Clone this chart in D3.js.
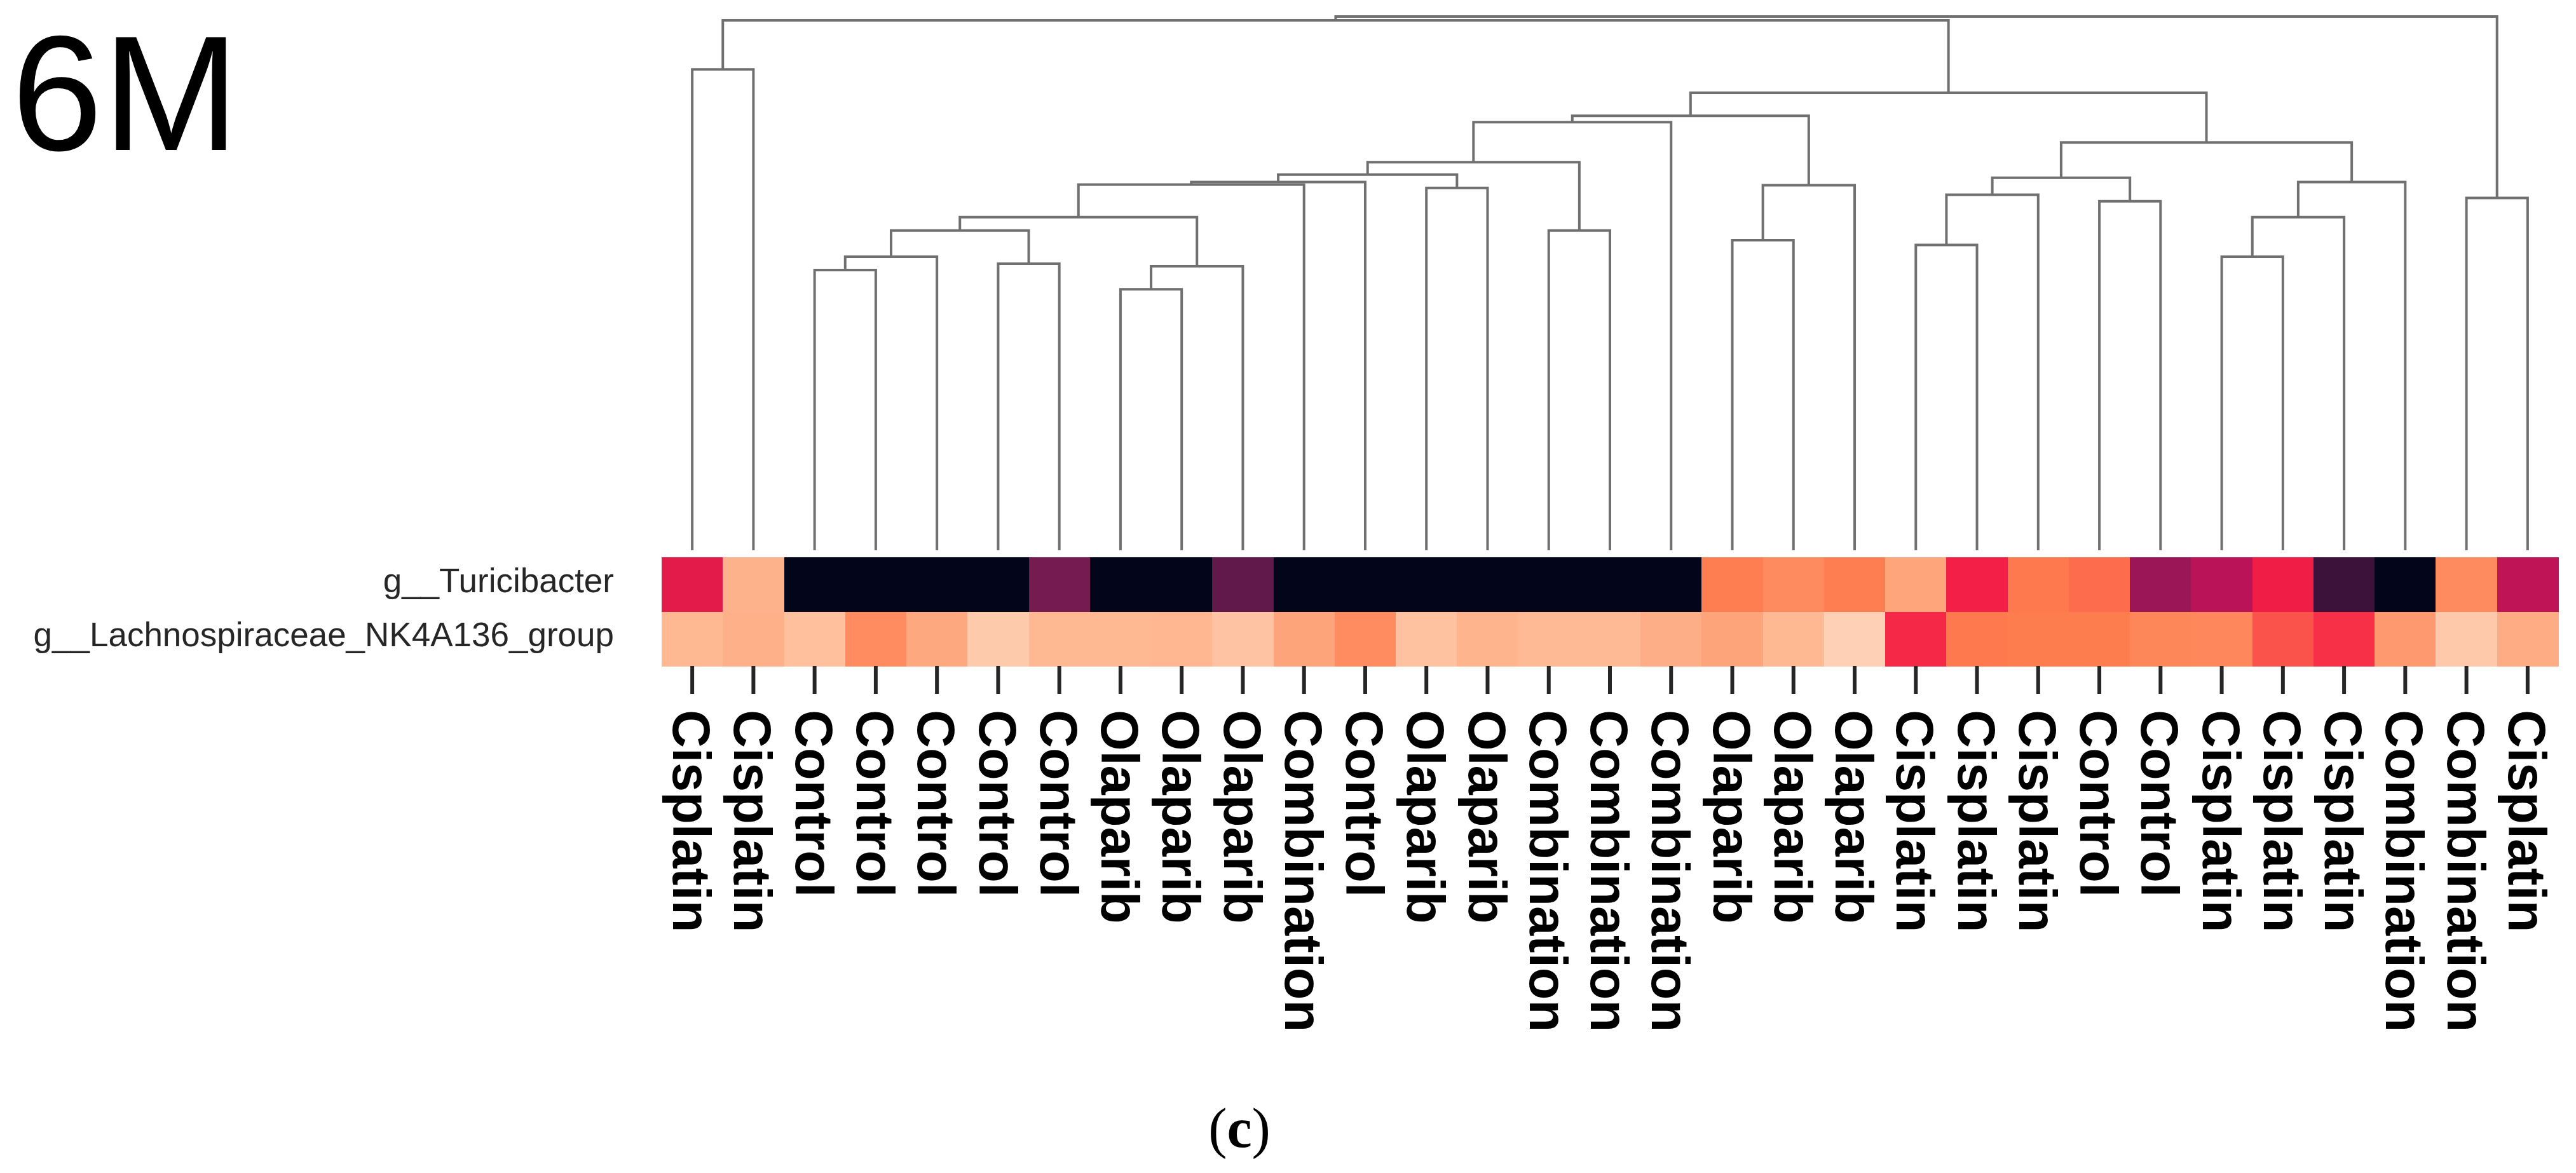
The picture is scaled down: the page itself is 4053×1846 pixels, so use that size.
<!DOCTYPE html>
<meta charset="utf-8">
<style>
    body { margin: 0; background: #fff; }
    text { font-family: "Liberation Sans", Arial, sans-serif; }
</style>
<body>
<script src="https://d3js.org/d3.v7.min.js"></script>
<script>
    // leaf order of the column dendrogram
    const sampleLabels = ["Cisplatin", "Cisplatin", "Control", "Control", "Control", "Control", "Control",
        "Olaparib", "Olaparib", "Olaparib", "Combination", "Control", "Olaparib", "Olaparib",
        "Combination", "Combination", "Combination", "Olaparib", "Olaparib", "Olaparib",
        "Cisplatin", "Cisplatin", "Cisplatin", "Control", "Control", "Cisplatin", "Cisplatin",
        "Cisplatin", "Combination", "Combination", "Cisplatin"];

    const taxa = ["g__Turicibacter", "g__Lachnospiraceae_NK4A136_group"];

    // scaled abundance per sample (0..1), same order as sampleLabels
    const turicibacter = [0.53, 0.84, 0, 0, 0, 0, 0.29, 0, 0, 0.24, 0, 0, 0, 0, 0, 0, 0,
        0.72, 0.75, 0.72, 0.81, 0.57, 0.71, 0.69, 0.37, 0.44, 0.56, 0.15, 0, 0.75, 0.45];
    const lachnospiraceae = [0.855, 0.836, 0.877, 0.751, 0.817, 0.906, 0.855, 0.855, 0.852, 0.886,
        0.808, 0.751, 0.883, 0.845, 0.86, 0.86, 0.831, 0.808, 0.855, 0.923, 0.585, 0.711,
        0.716, 0.717, 0.74, 0.742, 0.652, 0.596, 0.78, 0.903, 0.827];

    // linkage rows: [child a, child b, height]; ids < 31 are leaves, row k makes node 31 + k
    const linkage = [
        [2, 3, 0.525], [31, 4, 0.550], [5, 6, 0.537], [32, 33, 0.599], [7, 8, 0.489],
        [35, 9, 0.532], [34, 36, 0.624], [37, 10, 0.685], [38, 11, 0.690], [12, 13, 0.679],
        [39, 40, 0.704], [14, 15, 0.599], [41, 42, 0.727], [43, 16, 0.802], [17, 18, 0.581],
        [45, 19, 0.684], [44, 46, 0.814], [20, 21, 0.572], [48, 22, 0.666], [23, 24, 0.654],
        [49, 50, 0.698], [25, 26, 0.550], [52, 27, 0.624], [53, 28, 0.690], [51, 54, 0.764],
        [47, 55, 0.857], [0, 1, 0.901], [57, 56, 0.993], [29, 30, 0.660], [58, 59, 1.000]
    ];

    // rocket-like colour ramp
    const rocketStops = ["#03051a", "#3a1239", "#741b52", "#b51258", "#f51f46", "#fe7c4e", "#feb993", "#fdebdd"];

    const width = 4053, height = 1846;

    const svg = d3.select("body").append("svg")
        .attr("width", width)
        .attr("height", height);

    const x = d3.scaleBand()
        .domain(d3.range(sampleLabels.length))
        .range([1041, 4025]);

    const y = d3.scaleBand()
        .domain(taxa)
        .range([877, 1048]);

    const dendY = d3.scaleLinear()
        .domain([0, 1])
        .range([866, 26]);

    const color = d3.scaleLinear()
        .domain(rocketStops.map((c, i) => i / (rocketStops.length - 1)))
        .range(rocketStops)
        .interpolate(d3.interpolateRgb);

    // heatmap cells
    const rows = [turicibacter, lachnospiraceae];
    const cells = [];
    rows.forEach((vals, r) => vals.forEach((v, i) => cells.push({ taxon: taxa[r], i: i, v: v })));

    svg.append("g")
        .attr("shape-rendering", "crispEdges")
        .selectAll("rect")
        .data(cells)
        .join("rect")
        .attr("x", d => x(d.i))
        .attr("y", d => y(d.taxon))
        .attr("width", x.bandwidth() + 0.5)
        .attr("height", y.bandwidth() + 0.5)
        .attr("fill", d => color(d.v));

    // dendrogram
    const n = sampleLabels.length;
    const nodeX = [], nodeH = [];
    for (let i = 0; i < n; i++) { nodeX[i] = x(i) + x.bandwidth() / 2; nodeH[i] = 0; }
    linkage.forEach((row, k) => {
        nodeX[n + k] = (nodeX[row[0]] + nodeX[row[1]]) / 2;
        nodeH[n + k] = row[2];
    });

    svg.append("g")
        .selectAll("path")
        .data(linkage)
        .join("path")
        .attr("d", row => {
            const p = d3.path();
            p.moveTo(nodeX[row[0]], dendY(nodeH[row[0]]));
            p.lineTo(nodeX[row[0]], dendY(row[2]));
            p.lineTo(nodeX[row[1]], dendY(row[2]));
            p.lineTo(nodeX[row[1]], dendY(nodeH[row[1]]));
            return p.toString();
        })
        .attr("fill", "none")
        .attr("stroke", "#707070")
        .attr("stroke-width", 4);

    // row labels
    svg.append("g")
        .selectAll("text")
        .data(taxa)
        .join("text")
        .attr("x", 966)
        .attr("y", d => y(d) + y.bandwidth() / 2 + 12)
        .attr("text-anchor", "end")
        .attr("font-size", 53)
        .attr("fill", "#262626")
        .text(d => d);

    // column labels
    const xAxis = svg.append("g")
        .attr("transform", "translate(0,1048)")
        .call(d3.axisBottom(x).tickSize(44).tickFormat(i => sampleLabels[i]));

    xAxis.select(".domain").remove();
    xAxis.selectAll(".tick line")
        .attr("stroke", "#262626")
        .attr("stroke-width", 6);
    xAxis.selectAll(".tick text")
        .attr("transform", "rotate(90)")
        .attr("x", 69)
        .attr("y", 0)
        .attr("dy", "0.36em")
        .style("text-anchor", "start")
        .style("font-family", "'Liberation Sans', Arial, sans-serif")
        .style("font-weight", "bold")
        .style("font-size", "83px")
        .attr("fill", "#000");

    // panel labels
    svg.append("text")
        .attr("x", 18)
        .attr("y", 236)
        .attr("font-size", 258)
        .attr("fill", "#000")
        .text("6M");

    const caption = svg.append("text")
        .attr("x", 1950)
        .attr("y", 1805)
        .attr("text-anchor", "middle")
        .attr("font-size", 88)
        .style("font-family", "'Liberation Serif', 'Times New Roman', serif")
        .attr("fill", "#000");
    caption.append("tspan").text("(");
    caption.append("tspan").attr("font-weight", "bold").text("c");
    caption.append("tspan").text(")");
</script>
</body>
